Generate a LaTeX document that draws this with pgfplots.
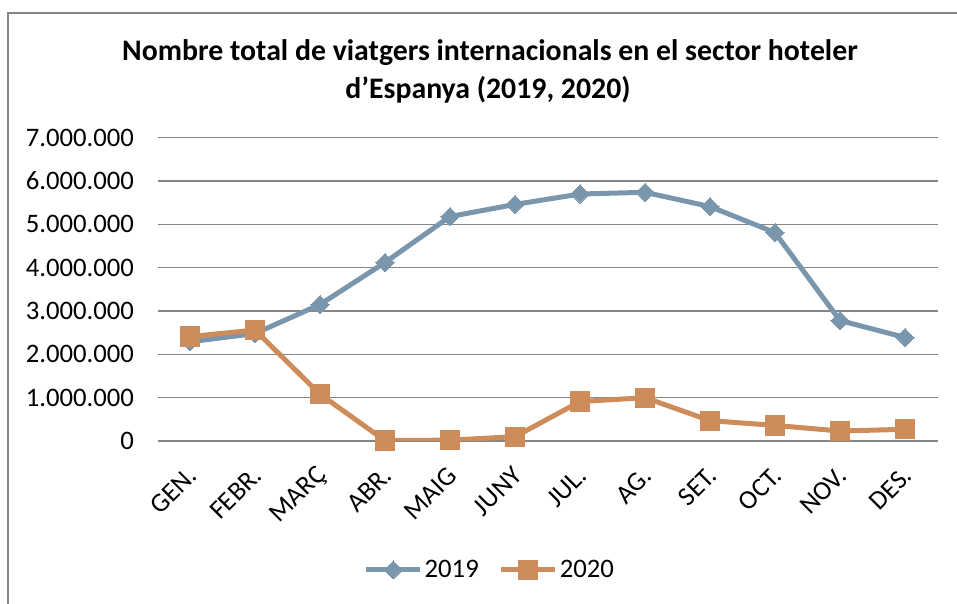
\documentclass[border=0pt]{standalone}
\usepackage{fontspec}
\setmainfont{Carlito}
\usepackage{pgfplots}
\pgfplotsset{compat=1.18}
\definecolor{c19}{RGB}{122,150,172}
\definecolor{c20}{RGB}{205,140,90}
\definecolor{gridc}{RGB}{134,134,134}
\begin{document}
\begin{tikzpicture}
\useasboundingbox (0pt,0pt) rectangle (957pt,604pt);
\draw[gridc, line width=1.5pt] (8pt,0pt) -- (8pt,591pt) -- (957pt,591pt);
\node[anchor=base, inner sep=0pt, font=\fontsize{29.8}{34}\selectfont\bfseries] at (490pt,543pt) {Nombre total de viatgers internacionals en el sector hoteler};
\node[anchor=base, inner sep=0pt, font=\fontsize{29.8}{34}\selectfont\bfseries] at (488pt,505pt) {d’Espanya (2019, 2020)};
\begin{axis}[
  at={(157.5pt,163pt)}, anchor=south west,
  scale only axis, width=780pt, height=303.3pt,
  xmin=-0.5, xmax=11.5, ymin=0, ymax=7000000,
  axis line style={draw=none}, tick style={draw=none},
  ymajorgrids, grid style={gridc, line width=1.5pt},
  xtick={0,...,11},
  xticklabels={GEN.,FEBR.,MARÇ,ABR.,MAIG,JUNY,JUL.,AG.,SET.,OCT.,NOV.,DES.},
  ytick={0,1000000,2000000,3000000,4000000,5000000,6000000,7000000},
  scaled y ticks=false,
  tick label style={font=\fontsize{26.7}{30}\selectfont},
  yticklabel style={xshift=-20pt, /pgf/number format/fixed, /pgf/number format/precision=0, /pgf/number format/1000 sep={.}, /pgf/number format/assume math mode=true},
  xticklabel style={xshift=5pt, yshift=-28pt, rotate=45, anchor=east},
  legend style={at={(0.426,-0.425)}, anchor=center, draw=none, fill=none, legend columns=2,
    font=\fontsize{26.7}{30}\selectfont,
    /tikz/every even column/.append style={column sep=18pt}},
  legend image code/.code={\draw[mark repeat=2,mark phase=2,#1] plot coordinates {(0pt,0pt) (27pt,0pt) (54pt,0pt)};},
]
\addplot[c19, line width=5pt, mark=square*, mark size=6.4pt, mark options={rotate=45, solid, line width=0pt}] coordinates {
(0,2290000) (1,2480000) (2,3150000) (3,4120000) (4,5180000) (5,5460000)
(6,5700000) (7,5740000) (8,5410000) (9,4810000) (10,2780000) (11,2390000)};
\addlegendentry{2019}
\addplot[c20, line width=5pt, mark=square*, mark size=9.6pt, mark options={solid, line width=0pt}] coordinates {
(0,2410000) (1,2560000) (2,1080000) (3,10000) (4,20000) (5,100000)
(6,910000) (7,1000000) (8,470000) (9,360000) (10,230000) (11,270000)};
\addlegendentry{2020}
\end{axis}
\end{tikzpicture}
\end{document}
